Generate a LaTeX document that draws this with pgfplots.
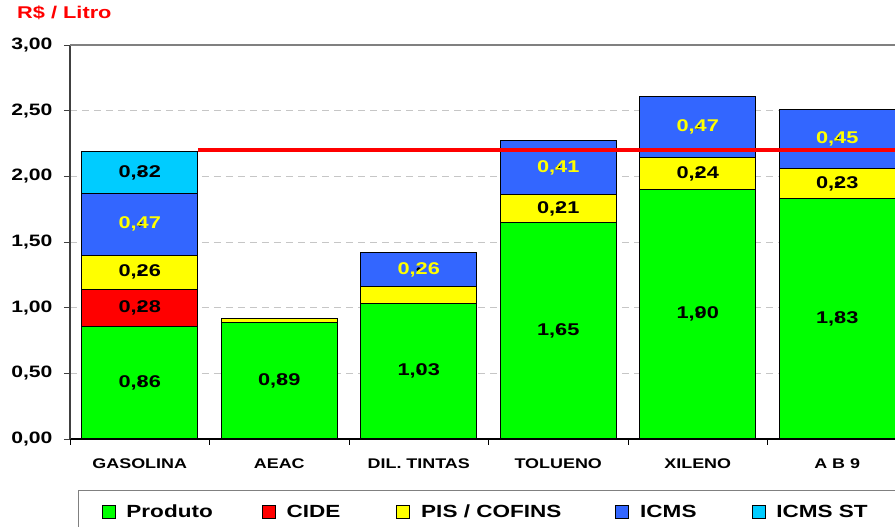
\documentclass[border=0pt]{standalone}
\usepackage{fontspec}
\setmainfont{Liberation Sans}[FakeStretch=1.28]
\usepackage{pgfplots}
\usepackage{pgfplotstable}
\pgfplotsset{compat=1.18}
\definecolor{cProd}{HTML}{00FF00}
\definecolor{cCide}{HTML}{FF0000}
\definecolor{cPis}{HTML}{FFFF00}
\definecolor{cIcms}{HTML}{3366FF}
\definecolor{cIcmsSt}{HTML}{00CCFF}
\definecolor{axgray}{HTML}{404040}

\pgfplotstableread{
x prod cide pis icms icmsst
0 0.86 0.28 0.26 0.47 0.32
1 0.89 0 0.03 0 0
2 1.03 0 0.13 0.26 0
3 1.65 0 0.21 0.41 0
4 1.90 0 0.24 0.47 0
5 1.83 0 0.23 0.45 0
}\datatable

\pgfplotstableread{
x y label
0 0.43 0,86
0 1.00 0,28
0 1.27 0,26
0 2.03 0,32
1 0.445 0,89
2 0.515 1,03
3 0.825 1,65
3 1.755 0,21
4 0.95 1,90
4 2.02 0,24
5 0.915 1,83
5 1.945 0,23
}\blacklabels

\pgfplotstableread{
x y label
0 1.635 0,47
2 1.29 0,26
3 2.065 0,41
4 2.375 0,47
5 2.285 0,45
}\yellowlabels

\pgfplotsset{
  base/.style={
    at={(0pt,0pt)}, anchor=south west,
    width=825pt, height=394pt, scale only axis,
    xmin=-0.5, xmax=5.414, ymin=0, ymax=3,
  },
}
\newcommand{\lgap}[1]{\rule{#1}{0pt}}

\begin{document}
\begin{tikzpicture}
\clip (-70pt,-88pt) rectangle (825pt,439pt);
\begin{axis}[base,
  clip mode=individual,
  ybar stacked, bar width=116pt,
  axis x line*=bottom, axis y line*=left,
  x axis line style={black, line width=1.3pt, -},
  y axis line style={axgray, line width=1.3pt, -},
  xtick={-0.5,0.5,1.5,2.5,3.5,4.5}, xticklabels={},
  xtick style={black, line width=0.9pt},
  tick align=outside, major tick length=6pt,
  extra x ticks={0,1,2,3,4,5},
  extra x tick labels={GASOLINA,AEAC,DIL. TINTAS,TOLUENO,XILENO,A B 9},
  extra x tick style={major tick length=0pt, xticklabel style={anchor=north, inner sep=0pt, yshift=-20pt, font=\fontsize{14}{16}\selectfont\bfseries}},
  ytick={0,0.5,1,1.5,2,2.5},
  extra y ticks={3},
  extra y tick style={grid style={solid, gray, line width=1.3pt}},
  ytick style={axgray, line width=0.9pt},
  ymajorgrids,
  grid style={gray!45, line width=0.9pt, dash pattern=on 7pt off 5pt},
  yticklabel style={font=\fontsize{16.5}{18}\selectfont\bfseries, xshift=-8pt, /pgf/number format/.cd, fixed, fixed zerofill, precision=2, use comma, assume math mode=true},
  legend columns=5,
  legend style={at={(0.0097,-0.1294)}, anchor=north west, draw=gray, line width=1.3pt,
    font=\fontsize{17.6}{20}\selectfont\bfseries, inner xsep=23pt, inner ysep=12pt,
    legend cell align=left},
  legend image code/.code={\draw[#1, draw=black, line width=0.8pt] (0pt,-6.5pt) rectangle (13pt,6.5pt);},
]
\addplot[fill=cProd, draw=black, line width=1pt] table[x=x,y=prod]{\datatable};
\addlegendentry{\lgap{9pt}Produto\lgap{47pt}}
\addplot[fill=cCide, draw=black, line width=1pt] table[x=x,y=cide]{\datatable};
\addlegendentry{\lgap{9pt}CIDE\lgap{54pt}}
\addplot[fill=cPis, draw=black, line width=1pt] table[x=x,y=pis]{\datatable};
\addlegendentry{\lgap{9pt}PIS / COFINS\lgap{52pt}}
\addplot[fill=cIcms, draw=black, line width=1pt] table[x=x,y=icms]{\datatable};
\addlegendentry{\lgap{9pt}ICMS\lgap{53pt}}
\addplot[fill=cIcmsSt, draw=black, line width=1pt] table[x=x,y=icmsst]{\datatable};
\addlegendentry{\lgap{9pt}ICMS ST\lgap{60pt}}
\node[anchor=west, text=red, font=\fontsize{17}{20}\selectfont\bfseries, inner sep=0pt] at (rel axis cs:-0.0642,1.081) {R\$ / Litro};
\end{axis}
\begin{axis}[base, hide axis]
\addplot[red, line width=4pt] coordinates {(0.416,2.2) (5.414,2.2)};
\addplot[only marks, mark=*, mark options={draw=none, fill=none},
  nodes near coords, point meta=explicit symbolic,
  nodes near coords style={anchor=center, text=black, font=\fontsize{17}{20}\selectfont\bfseries}]
  table[x=x,y=y,meta=label]{\blacklabels};
\addplot[only marks, mark=*, mark options={draw=none, fill=none},
  nodes near coords, point meta=explicit symbolic,
  nodes near coords style={anchor=center, text=cPis, font=\fontsize{17}{20}\selectfont\bfseries}]
  table[x=x,y=y,meta=label]{\yellowlabels};
\end{axis}
\end{tikzpicture}
\end{document}
